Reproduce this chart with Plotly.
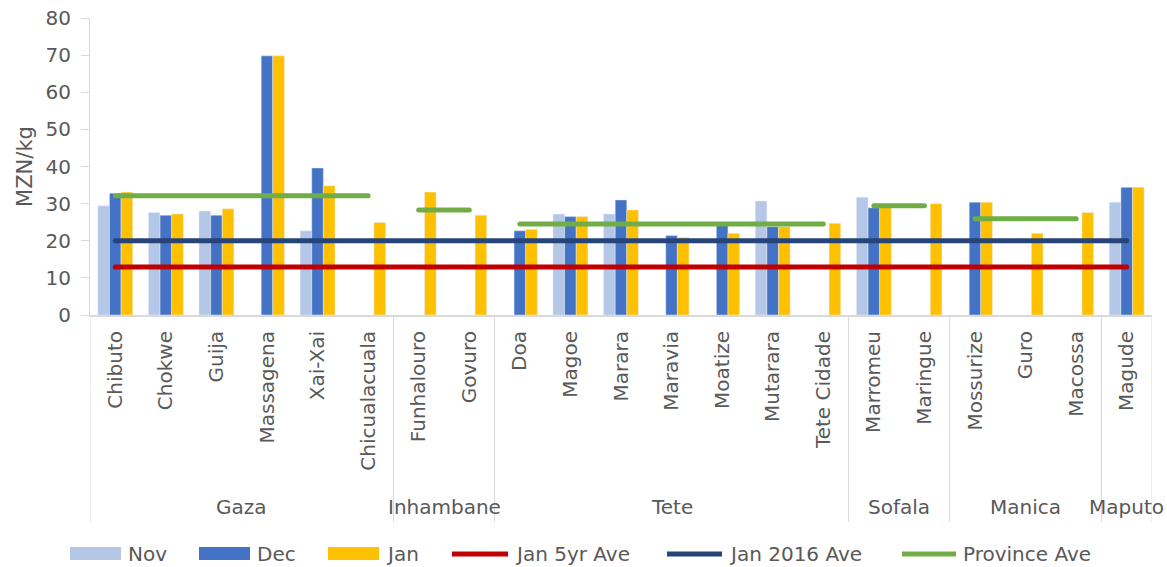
import plotly.graph_objects as go

# ---------------- data ----------------
markets = ["Chibuto", "Chokwe", "Guija", "Massagena", "Xai-Xai", "Chicualacuala",
           "Funhalouro", "Govuro",
           "Doa", "Magoe", "Marara", "Maravia", "Moatize", "Mutarara", "Tete Cidade",
           "Marromeu", "Maringue",
           "Mossurize", "Guro", "Macossa",
           "Magude"]
provinces = ["Gaza"] * 6 + ["Inhambane"] * 2 + ["Tete"] * 7 + ["Sofala"] * 2 + ["Manica"] * 3 + ["Maputo"]

nov = [29.4, 27.6, 28.0, None, 22.7, None,
       None, None,
       None, 27.2, 27.2, None, None, 30.7, None,
       31.7, None,
       None, None, None,
       30.4]
dec = [32.8, 26.9, 26.9, 69.8, 39.6, None,
       None, None,
       22.7, 26.5, 31.0, 21.4, 24.2, 23.8, None,
       28.9, None,
       30.4, None, None,
       34.4]
jan = [33.1, 27.2, 28.6, 69.8, 34.8, 24.9,
       33.1, 26.9,
       23.1, 26.5, 28.3, 20.9, 22.0, 23.8, 24.7,
       29.0, 30.0,
       30.4, 22.0, 27.6,
       34.4]
jan_5yr_ave = [12.9] * 21
jan_2016_ave = [20.0] * 21
province_ave = {"Gaza": 32.1, "Inhambane": 28.3, "Tete": 24.5, "Sofala": 29.4, "Manica": 25.9}

province_order = ["Gaza", "Inhambane", "Tete", "Sofala", "Manica", "Maputo"]
y_ticks = [0, 10, 20, 30, 40, 50, 60, 70, 80]

# ---------------- style ----------------
FONT = "DejaVu Sans"
TXT = "#595959"
AXC = "#d9d9d9"
C_NOV, C_DEC, C_JAN = "#B4C7E7", "#4472C4", "#FFC000"
C_RED, C_NAVY, C_GREEN = "#C00000", "#264478", "#70AD47"
LW = 5

fig = go.Figure()
fig.add_bar(x=markets, y=nov, name="Nov", marker_color=C_NOV)
fig.add_bar(x=markets, y=dec, name="Dec", marker_color=C_DEC)
fig.add_bar(x=markets, y=jan, name="Jan", marker_color=C_JAN)
fig.add_scatter(x=markets, y=jan_5yr_ave, mode="lines", name="Jan 5yr Ave",
                line=dict(color=C_RED, width=LW))
fig.add_scatter(x=markets, y=jan_2016_ave, mode="lines", name="Jan 2016 Ave",
                line=dict(color=C_NAVY, width=LW))
for i, (prov, val) in enumerate(province_ave.items()):
    xs = [m for m, p in zip(markets, provinces) if p == prov]
    fig.add_scatter(x=xs, y=[val] * len(xs), mode="lines", name="Province Ave",
                    legendgroup="prov", line=dict(color=C_GREEN, width=LW))

# plot-area geometry (pixels)
L, R, T, B = 90, 15, 18, 252
W, H = 1167, 567
pw, ph = W - L - R, H - T - B


def px_x(p):
    return (p - L) / pw


def px_y(p):
    return (H - B - p) / ph


# group dividers and province labels
bounds = []
start = 0
for prov in province_order:
    n = provinces.count(prov)
    bounds.append((prov, start, start + n - 1))
    start += n

div_positions = [-0.5] + [b[2] + 0.5 for b in bounds]
for xp in div_positions:
    fig.add_shape(type="line", xref="x", yref="paper", x0=xp, x1=xp,
                  y0=0, y1=px_y(522), line=dict(color=AXC, width=1))
for prov, s, e in bounds:
    fig.add_annotation(x=(s + e) / 2, xref="x", y=px_y(507), yref="paper",
                       text=prov, showarrow=False, xanchor="center", yanchor="middle",
                       font=dict(family=FONT, size=20, color=TXT))

# manual legend
ly = 554
legend_items = [
    ("Nov", "bar", C_NOV, 70, 121),
    ("Dec", "bar", C_DEC, 199, 250),
    ("Jan", "bar", C_JAN, 328, 379),
    ("Jan 5yr Ave", "line", C_RED, 452, 508),
    ("Jan 2016 Ave", "line", C_NAVY, 667, 722),
    ("Province Ave", "line", C_GREEN, 902, 956),
]
for name, kind, col, x0, x1 in legend_items:
    if kind == "bar":
        fig.add_shape(type="rect", xref="paper", yref="paper",
                      x0=px_x(x0), x1=px_x(x1), y0=px_y(ly + 6), y1=px_y(ly - 7),
                      fillcolor=col, line=dict(width=0))
    else:
        fig.add_shape(type="line", xref="paper", yref="paper",
                      x0=px_x(x0), x1=px_x(x1), y0=px_y(ly), y1=px_y(ly),
                      line=dict(color=col, width=LW))
    fig.add_annotation(x=px_x(x1 + 5), xref="paper", y=px_y(ly), yref="paper",
                       text=name, showarrow=False, xanchor="left", yanchor="middle",
                       font=dict(family=FONT, size=20, color=TXT))

fig.update_layout(
    width=W, height=H,
    margin=dict(l=L, r=R, t=T, b=B, pad=0, autoexpand=False),
    paper_bgcolor="white", plot_bgcolor="white",
    barmode="group", bargap=0.31, bargroupgap=0,
    showlegend=False, hovermode=False,
    font=dict(family=FONT, size=20, color=TXT),
)
fig.update_xaxes(
    type="category", categoryorder="array", categoryarray=markets,
    range=[-0.5, len(markets) - 0.5], automargin=False,
    tickangle=-90, ticks="", ticklabelstandoff=6,
    tickfont=dict(family=FONT, size=20, color=TXT),
    showline=True, linecolor=AXC, linewidth=2, showgrid=False, zeroline=False,
)
fig.update_yaxes(
    range=[0, 80], tickvals=y_ticks, ticks="outside", ticklen=8, tickcolor=AXC,
    tickwidth=1, showline=True, linecolor=AXC, linewidth=1, showgrid=False,
    zeroline=False, ticklabelstandoff=6, automargin=False,
    tickfont=dict(family=FONT, size=20, color=TXT),
    title=dict(text="MZN/kg", font=dict(family=FONT, size=21, color=TXT), standoff=7),
)

js = ("document.body.style.margin='0';document.body.style.overflow='hidden';"
      "document.querySelectorAll('.scatterlayer path.js-line').forEach("
      "function(p){p.style.strokeLinecap='round';});")
fig.write_html("out.html", post_script=js, config={"displayModeBar": False})
